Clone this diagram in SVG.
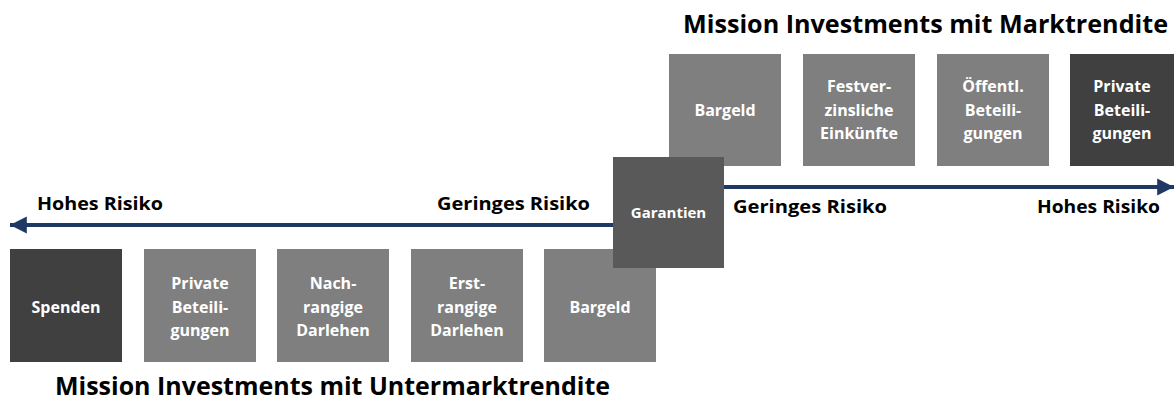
<svg xmlns="http://www.w3.org/2000/svg" width="1174" height="401" viewBox="0 0 1174 401">
  <style>
    .box-mid { fill: #7f7f7f; }
    .box-dark { fill: #404040; }
    .box-guar { fill: #595959; }
    .lbl { font-family: "Open Sans", Lato, sans-serif; font-weight: bold; fill: #ffffff; font-size: 16px; text-anchor: middle; }
    .risk { font-family: "Open Sans", Lato, sans-serif; font-weight: bold; fill: #000000; font-size: 18px; }
    .title { font-family: "Open Sans", Lato, sans-serif; font-weight: bold; fill: #000000; font-size: 24.5px; }
    .axis { stroke: #1f3864; stroke-width: 4; fill: none; }
  </style>
  <defs>
    <marker id="head" viewBox="0 0 10 10" refX="10" refY="5" markerWidth="4.2" markerHeight="4.5" orient="auto-start-reverse" markerUnits="strokeWidth">
      <path d="M0,0 L10,5 L0,10 z" fill="#1f3864"/>
    </marker>
  </defs>

  <rect width="1174" height="401" fill="#ffffff"/>

  <!-- risk axes -->
  <g id="connectors">
    <line class="axis" x1="613" y1="225" x2="10" y2="225" marker-end="url(#head)"/>
    <line class="axis" x1="724" y1="187" x2="1174" y2="187" marker-end="url(#head)"/>
  </g>

  <!-- titles and axis labels -->
  <text class="title" x="683" y="33" textLength="485" lengthAdjust="spacingAndGlyphs">Mission Investments mit Marktrendite</text>
  <text class="title" x="55" y="395" textLength="555" lengthAdjust="spacingAndGlyphs">Mission Investments mit Untermarktrendite</text>
  <text class="risk" x="37" y="210" textLength="126" lengthAdjust="spacingAndGlyphs">Hohes Risiko</text>
  <text class="risk" x="437" y="210" textLength="153" lengthAdjust="spacingAndGlyphs">Geringes Risiko</text>
  <text class="risk" x="733" y="213" textLength="154" lengthAdjust="spacingAndGlyphs">Geringes Risiko</text>
  <text class="risk" x="1037" y="213" textLength="123" lengthAdjust="spacingAndGlyphs">Hohes Risiko</text>

  <!-- below-market row -->
  <g id="spenden">
    <rect class="box-dark" x="10" y="249" width="112" height="113"/>
    <text class="lbl" x="66" y="313">Spenden</text>
  </g>
  <g id="private-below">
    <rect class="box-mid" x="144" y="249" width="112" height="113"/>
    <text class="lbl" x="200" y="289">Private</text>
    <text class="lbl" x="200" y="313">Beteili-</text>
    <text class="lbl" x="200" y="336">gungen</text>
  </g>
  <g id="nachrangig">
    <rect class="box-mid" x="277" y="249" width="112" height="113"/>
    <text class="lbl" x="333" y="289">Nach-</text>
    <text class="lbl" x="333" y="313">rangige</text>
    <text class="lbl" x="333" y="336">Darlehen</text>
  </g>
  <g id="erstrangig">
    <rect class="box-mid" x="411" y="249" width="112" height="113"/>
    <text class="lbl" x="467" y="289">Erst-</text>
    <text class="lbl" x="467" y="313">rangige</text>
    <text class="lbl" x="467" y="336">Darlehen</text>
  </g>
  <g id="bargeld-below">
    <rect class="box-mid" x="544" y="249" width="112" height="113"/>
    <text class="lbl" x="600" y="313">Bargeld</text>
  </g>

  <!-- market-rate row -->
  <g id="bargeld-market">
    <rect class="box-mid" x="669" y="54" width="112" height="112"/>
    <text class="lbl" x="725" y="116">Bargeld</text>
  </g>
  <g id="festverzinslich">
    <rect class="box-mid" x="803" y="54" width="112" height="112"/>
    <text class="lbl" x="859" y="92">Festver-</text>
    <text class="lbl" x="859" y="116">zinsliche</text>
    <text class="lbl" x="859" y="139">Einkünfte</text>
  </g>
  <g id="oeffentlich">
    <rect class="box-mid" x="937" y="54" width="112" height="112"/>
    <text class="lbl" x="993" y="92">Öffentl.</text>
    <text class="lbl" x="993" y="116">Beteili-</text>
    <text class="lbl" x="993" y="139">gungen</text>
  </g>
  <g id="private-market">
    <rect class="box-dark" x="1070" y="54" width="112" height="112"/>
    <text class="lbl" x="1122" y="92">Private</text>
    <text class="lbl" x="1122" y="116">Beteili-</text>
    <text class="lbl" x="1122" y="139">gungen</text>
  </g>

  <!-- guarantees straddle both rows -->
  <g id="garantien">
    <rect class="box-guar" x="613" y="157" width="111" height="111"/>
    <text class="lbl" x="668.5" y="218" style="font-size:15px">Garantien</text>
  </g>
</svg>
